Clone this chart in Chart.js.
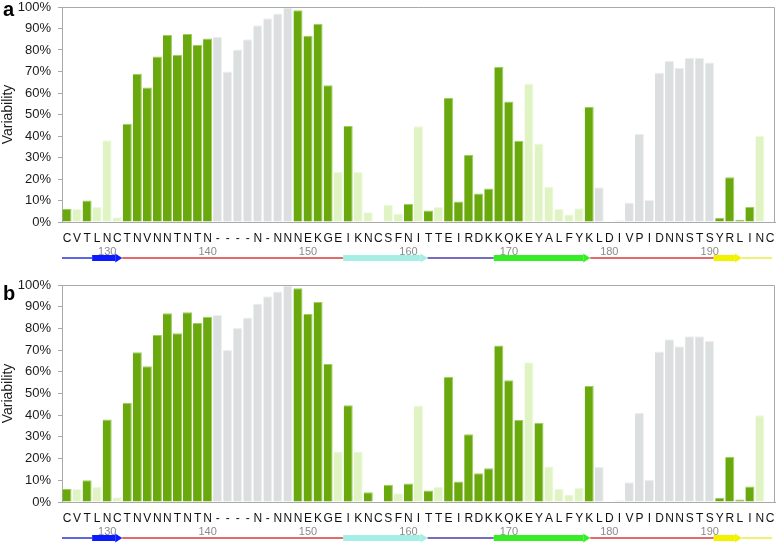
<!DOCTYPE html>
<html>
<head>
<meta charset="utf-8">
<script src="https://cdn.jsdelivr.net/npm/chart.js@4"></script>
<style>
  body { margin: 0; background: #fff; width: 777px; height: 544px; overflow: hidden; position: relative; }
  .panel { position: absolute; left: 0; width: 777px; }
  .tag { position: absolute; left: 3px; font: bold 20px 'Liberation Sans', Arial, sans-serif; color: #000; }
</style>
</head>
<body>
<div class="panel" style="top:0;height:272px"><canvas id="chartA"></canvas></div>
<div class="panel" style="top:278px;height:266px"><canvas id="chartB"></canvas></div>
<div class="tag" style="top:-2px">a</div>
<div class="tag" style="top:282px">b</div>
<script>
// residues along the alignment
const residues = 'CVTLNCTNVNNTNTN----N-NNNEKGEIKNCSFNITTEIRDKKQKEYALFYKLDIVPIDNNSTSYRLINC'.split('');

// variability (%) per residue
const variability = [
  6, 6, 10, 7, 38, 2.2, 45.7, 69, 62.6, 77, 87, 77.8, 87.4, 82.5, 85.4,
  86.2, 70, 80.2, 85, 91.5, 94.8, 97, 99.8,
  98.5, 86.6, 92.2, 63.6, 23.3, 44.6, 23.3, 4.5, 0, 8, 4, 8.5, 44.5, 5.3, 7,
  57.7, 9.5, 31.2, 13.3, 15.6, 72.1, 56.1, 37.8,
  64.4, 36.5, 16.4, 6.1, 3.5, 6.4, 53.5,
  16.2, 0, 0.8, 9.1, 41.1, 10.2, 69.4, 75, 71.8, 76.4, 76.4, 74.2,
  2, 20.8, 1.1, 7.1, 40, 0
];

// residue class per panel: D = dark green, L = light green, G = grey
const classA = 'DLDLLLDDDDDDDDDGGGGGGGGDDDDLDLLLLLDLDLDDDDDDDDLLLLLLDGGGGGGGGGGGGDDDDLL'.split('');
const classB = 'DLDLDLDDDDDDDDDGGGGGGGGDDDDLDLDLDLDLDLDDDDDDDDLDLLLLDGGGGGGGGGGGGDDDDLL'.split('');

// residue numbering under the letters
const numberAt = [4, 14, 24, 34, 44, 54, 64];
const numberText = ['130', '140', '150', '160', '170', '180', '190'];

// secondary structure (residue positions)
const ssFrom = [0, 3, 6, 28, 36.4, 43, 52.6, 64.9, 67.7];
const ssTo = [3, 6, 28, 36.4, 43, 52.6, 64.9, 67.7, 70.7];
const ssKind = ['coil', 'strand', 'coil', 'strand', 'coil', 'strand', 'coil', 'strand', 'coil'];

const ssColor = ['#2a35d8', '#0a1cff', '#d83a3a', '#a4eee5', '#4a3cae', '#36ee26', '#d83a3a', '#f2f200', '#ecec4c'];
const fill = { D: '#6aa90e', L: '#dff4c2', G: '#dcdfe0' };
const edge = { D: '#9ccf5a', L: '#eefae0', G: '#eef0f0' };
const FONT = "'Liberation Sans', Arial, sans-serif";

const numberLabels = residues.map((r, i) => {
  const k = numberAt.indexOf(i);
  return k >= 0 ? numberText[k] : '';
});

const noPad = s => { s.paddingLeft = 0; s.paddingRight = 0; s.paddingTop = 0; s.paddingBottom = 0; };

const extras = {
  id: 'extras',
  afterDraw(chart) {
    const ctx = chart.ctx, a = chart.chartArea, x = chart.scales.x;
    // frame
    ctx.save();
    ctx.strokeStyle = '#a9a9a9';
    ctx.lineWidth = 1;
    ctx.beginPath();
    ctx.moveTo(a.left, a.top + 0.5);
    ctx.lineTo(a.right - 0.5, a.top + 0.5);
    ctx.lineTo(a.right - 0.5, a.bottom);
    ctx.stroke();
    // secondary structure track
    const step = x.width / residues.length;
    const y = a.bottom + 36;
    ssKind.forEach((kind, i) => {
      const x0 = x.left + ssFrom[i] * step, x1 = x.left + ssTo[i] * step;
      ctx.fillStyle = ssColor[i];
      if (kind === 'coil') {
        ctx.fillRect(x0, y - 0.75, x1 - x0, 1.5);
      } else {
        const head = 7;
        ctx.fillRect(x0, y - 3, x1 - x0 - head, 6);
        ctx.beginPath();
        ctx.moveTo(x1 - head, y - 4.5);
        ctx.lineTo(x1, y);
        ctx.lineTo(x1 - head, y + 4.5);
        ctx.closePath();
        ctx.fill();
      }
    });
    ctx.restore();
  }
};

function makePanel(id, classes, bottomPad) {
  new Chart(document.getElementById(id), {
    type: 'bar',
    data: {
      labels: residues,
      datasets: [{
        data: variability,
        backgroundColor: classes.map(c => fill[c]),
        borderColor: classes.map(c => edge[c]),
        borderWidth: { right: 1, top: 1, left: 0, bottom: 0 },
        borderSkipped: 'bottom',
        barPercentage: 0.9,
        categoryPercentage: 1
      }]
    },
    options: {
      responsive: true, maintainAspectRatio: false,
      animation: false,
      layout: { padding: { top: 7, right: 2, left: 0, bottom: bottomPad } },
      plugins: { legend: { display: false }, tooltip: { enabled: false } },
      scales: {
        y: {
          min: 0, max: 100,
          afterFit: s => { s.width = 62; noPad(s); },
          ticks: { stepSize: 10, callback: v => v + '%', color: '#1a1a1a', padding: 7, font: { family: FONT, size: 13 } },
          grid: { display: true, drawOnChartArea: false, tickLength: 4, color: '#a9a9a9' },
          border: { color: '#a9a9a9' },
          title: { display: true, text: 'Variability', color: '#1a1a1a', padding: { top: 0, bottom: 0 }, font: { family: FONT, size: 14 } }
        },
        x: {
          weight: 0,
          afterFit: s => { s.height = 22; noPad(s); },
          ticks: { autoSkip: false, maxRotation: 0, color: '#111', padding: 9, font: { family: FONT, size: 12 } },
          grid: { display: false, drawTicks: false },
          border: { color: '#a9a9a9' }
        },
        x2: {
          type: 'category',
          position: 'bottom',
          weight: 1,
          labels: numberLabels,
          afterFit: s => { s.height = 14; noPad(s); },
          ticks: { autoSkip: false, maxRotation: 0, color: '#8a8a8a', padding: 1, font: { family: FONT, size: 11 } },
          grid: { display: false, drawTicks: false },
          border: { display: false }
        }
      }
    },
    plugins: [extras]
  });
}

makePanel('chartA', classA, 14);
makePanel('chartB', classB, 6);
</script>
</body>
</html>
